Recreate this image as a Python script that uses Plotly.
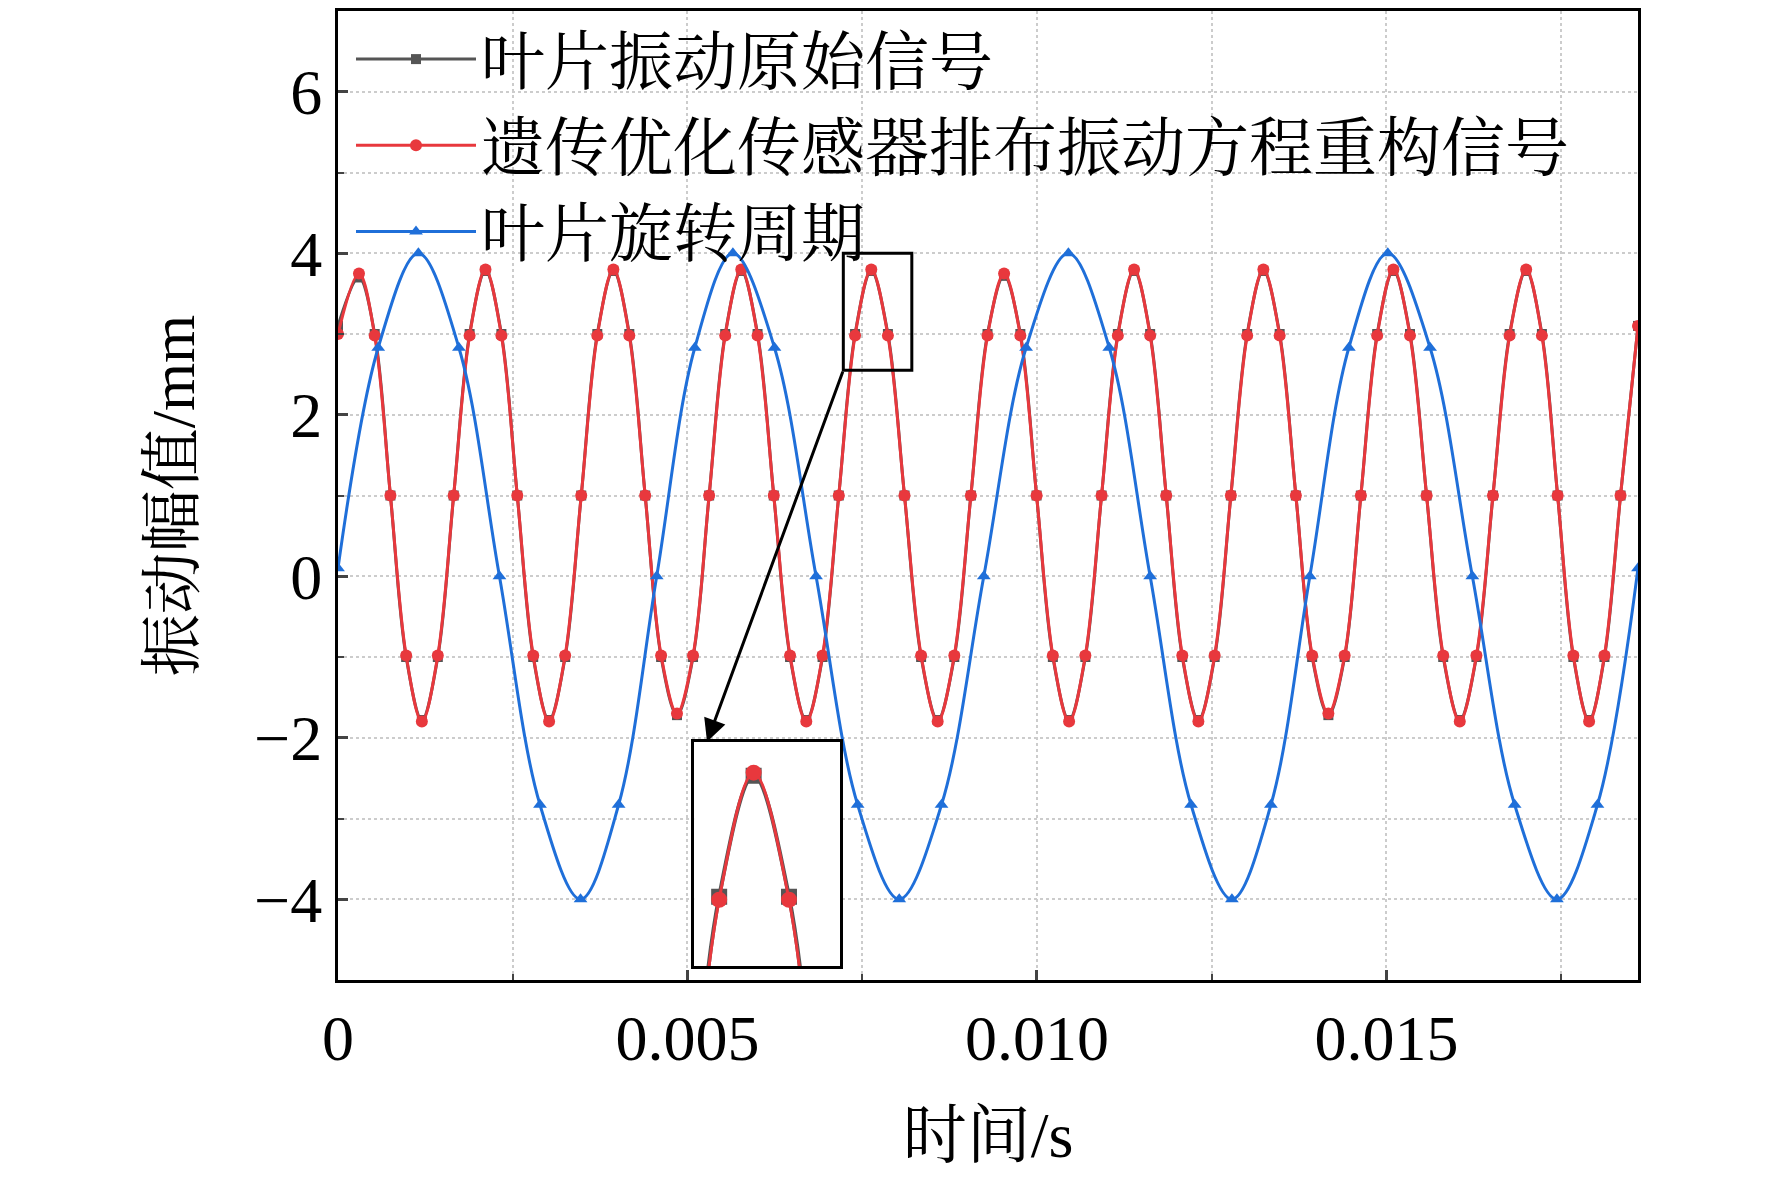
import plotly.graph_objects as go

# time samples of vibration signals (s)
t_vib = [0, 0.0003, 0.000525, 0.00075, 0.000975, 0.0012,
         0.001428, 0.001655, 0.001883, 0.00211,
         0.002338, 0.002565, 0.002793, 0.00302,
         0.00325, 0.00348, 0.00371, 0.00394,
         0.004168, 0.004395, 0.004623, 0.00485,
         0.00508, 0.00531, 0.00554, 0.00577,
         0.006003, 0.006235, 0.006468, 0.0067,
         0.006933, 0.007165, 0.007398, 0.00763,
         0.007868, 0.008105, 0.008343, 0.00858,
         0.008818, 0.009055, 0.009293, 0.00953,
         0.009763, 0.009995, 0.010228, 0.01046,
         0.010693, 0.010925, 0.011158, 0.01139,
         0.01162, 0.01185, 0.01208, 0.01231,
         0.012543, 0.012775, 0.013008, 0.01324,
         0.013473, 0.013705, 0.013938, 0.01417,
         0.014403, 0.014635, 0.014868, 0.0151,
         0.015338, 0.015575, 0.015813, 0.01605,
         0.016288, 0.016525, 0.016763, 0.017,
         0.017225, 0.01745, 0.017675, 0.0179,
         0.01812, 0.01835, 0.0186]
v_recon = [3.0, 3.75, 2.98, 1.0, -0.98, -1.8,
           -0.98, 1.0, 2.98, 3.8,
           2.98, 1.0, -0.98, -1.8,
           -0.98, 1.0, 2.98, 3.8,
           2.98, 1.0, -0.98, -1.7,
           -0.98, 1.0, 2.98, 3.8,
           2.98, 1.0, -0.98, -1.8,
           -0.98, 1.0, 2.98, 3.8,
           2.98, 1.0, -0.98, -1.8,
           -0.98, 1.0, 2.98, 3.75,
           2.98, 1.0, -0.98, -1.8,
           -0.98, 1.0, 2.98, 3.8,
           2.98, 1.0, -0.98, -1.8,
           -0.98, 1.0, 2.98, 3.8,
           2.98, 1.0, -0.98, -1.7,
           -0.98, 1.0, 2.98, 3.8,
           2.98, 1.0, -0.98, -1.8,
           -0.98, 1.0, 2.98, 3.8,
           2.98, 1.0, -0.98, -1.8,
           -0.98, 1.0, 3.1]
v_orig = [3.1, 3.7, 3.0, 1.0, -1.0, -1.78,
          -1.0, 1.0, 3.0, 3.78,
          3.0, 1.0, -1.0, -1.78,
          -1.0, 1.0, 3.0, 3.78,
          3.0, 1.0, -1.0, -1.72,
          -1.0, 1.0, 3.0, 3.78,
          3.0, 1.0, -1.0, -1.78,
          -1.0, 1.0, 3.0, 3.78,
          3.0, 1.0, -1.0, -1.78,
          -1.0, 1.0, 3.0, 3.72,
          3.0, 1.0, -1.0, -1.78,
          -1.0, 1.0, 3.0, 3.78,
          3.0, 1.0, -1.0, -1.78,
          -1.0, 1.0, 3.0, 3.78,
          3.0, 1.0, -1.0, -1.72,
          -1.0, 1.0, 3.0, 3.78,
          3.0, 1.0, -1.0, -1.78,
          -1.0, 1.0, 3.0, 3.78,
          3.0, 1.0, -1.0, -1.78,
          -1.0, 1.0, 3.1]

t_rot = [0, 0.000575, 0.00115, 0.00173, 0.00231, 0.00289, 0.00347,
         0.004015, 0.00456, 0.005105, 0.00565,
         0.006245, 0.00684, 0.007435, 0.00803,
         0.008635, 0.00924, 0.009845, 0.01045,
         0.011035, 0.01162, 0.012205, 0.01279,
         0.013348, 0.013905, 0.014463, 0.01502,
         0.015625, 0.01623, 0.016835, 0.01744,
         0.01802, 0.0186]
v_rot = [0.1, 2.83, 4.0, 2.83, 0, -2.83, -4.0,
         -2.83, 0, 2.83, 4.0,
         2.83, 0, -2.83, -4.0,
         -2.83, 0, 2.83, 4.0,
         2.83, 0, -2.83, -4.0,
         -2.83, 0, 2.83, 4.0,
         2.83, 0, -2.83, -4.0,
         -2.83, 0.1]

names = ["叶片振动原始信号", "遗传优化传感器排布振动方程重构信号", "叶片旋转周期"]
x_ticks = [0, 0.005, 0.010, 0.015]
x_tick_text = ["0", "0.005", "0.010", "0.015"]
y_ticks = [-4, -2, 0, 2, 4, 6]
y_tick_text = ["−4", "−2", "0", "2", "4", "6"]

FONT = "Liberation Serif, Noto Serif CJK SC, Noto Sans CJK SC, serif"
BLK, RED, BLUE = "#555555", "#e8383d", "#1f6fd9"

fig = go.Figure()
fig.add_trace(go.Scatter(x=t_vib, y=v_orig, name=names[0], mode="lines+markers",
                         line=dict(color=BLK, width=3, shape="spline"),
                         marker=dict(symbol="square", size=10, color=BLK)))
fig.add_trace(go.Scatter(x=t_vib, y=v_recon, name=names[1], mode="lines+markers",
                         line=dict(color=RED, width=3, shape="spline"),
                         marker=dict(symbol="circle", size=12, color=RED)))
fig.add_trace(go.Scatter(x=t_rot, y=v_rot, name=names[2], mode="lines+markers",
                         line=dict(color=BLUE, width=3, shape="spline"),
                         marker=dict(symbol="triangle-up", size=12, color=BLUE)))
# inset
fig.add_trace(go.Scatter(x=t_vib, y=v_orig, mode="lines+markers", showlegend=False,
                         xaxis="x2", yaxis="y2",
                         line=dict(color=BLK, width=4, shape="spline"),
                         marker=dict(symbol="square", size=16, color=BLK)))
fig.add_trace(go.Scatter(x=t_vib, y=v_recon, mode="lines+markers", showlegend=False,
                         xaxis="x2", yaxis="y2",
                         line=dict(color=RED, width=3, shape="spline"),
                         marker=dict(symbol="circle", size=16, color=RED)))

grid = dict(showgrid=True, gridcolor="#cccccc", griddash="dot", gridwidth=1.5)
fig.update_layout(
    width=1772, height=1182, plot_bgcolor="white", paper_bgcolor="white",
    margin=dict(l=330, r=142, t=0, b=210),
    font=dict(family=FONT, size=64, color="black"),
    legend=dict(x=0.01, y=1.0, xanchor="left", yanchor="top", bgcolor="rgba(0,0,0,0)",
                font=dict(size=64), tracegroupgap=0, itemwidth=120),
    xaxis=dict(range=[0, 0.0186], tickvals=x_ticks, ticktext=x_tick_text,
               showline=True, linecolor="black", linewidth=3, mirror=True,
               ticks="inside", ticklen=10, tickwidth=3, zeroline=False,
               minor=dict(dtick=0.0025, showgrid=True, gridcolor="#cccccc", griddash="dot",
                          ticks="inside", ticklen=6, tickwidth=2),
               title=dict(text="时间/s", font=dict(size=64), standoff=40), **grid),
    yaxis=dict(range=[-5, 7], tickvals=y_ticks, ticktext=y_tick_text,
               showline=True, linecolor="black", linewidth=3, mirror=True,
               ticks="inside", ticklen=10, tickwidth=3, zeroline=False,
               minor=dict(dtick=1, showgrid=True, gridcolor="#cccccc", griddash="dot",
                          ticks="inside", ticklen=6, tickwidth=2),
               title=dict(text="振动幅值/mm", font=dict(size=62), standoff=40), **grid),
    xaxis2=dict(domain=[0.274, 0.386], anchor="y2", range=[0.00723, 0.00821],
                showticklabels=False, ticks="", showgrid=False, zeroline=False,
                showline=True, linecolor="black", linewidth=3, mirror=True),
    yaxis2=dict(domain=[0.014, 0.246], anchor="x2", range=[2.55, 4.0],
                showticklabels=False, ticks="", showgrid=False, zeroline=False,
                showline=True, linecolor="black", linewidth=3, mirror=True),
    shapes=[dict(type="rect", xref="x", yref="y", x0=0.00723, x1=0.00821, y0=2.55, y1=4.0,
                 line=dict(color="black", width=3))],
    annotations=[dict(x=0.00528, y=-2.05, ax=0.00723, ay=2.55, xref="x", yref="y",
                      axref="x", ayref="y", showarrow=True, arrowhead=2, arrowsize=1.5,
                      arrowwidth=3, arrowcolor="black", text="")],
)
fig.write_html("out.html")
